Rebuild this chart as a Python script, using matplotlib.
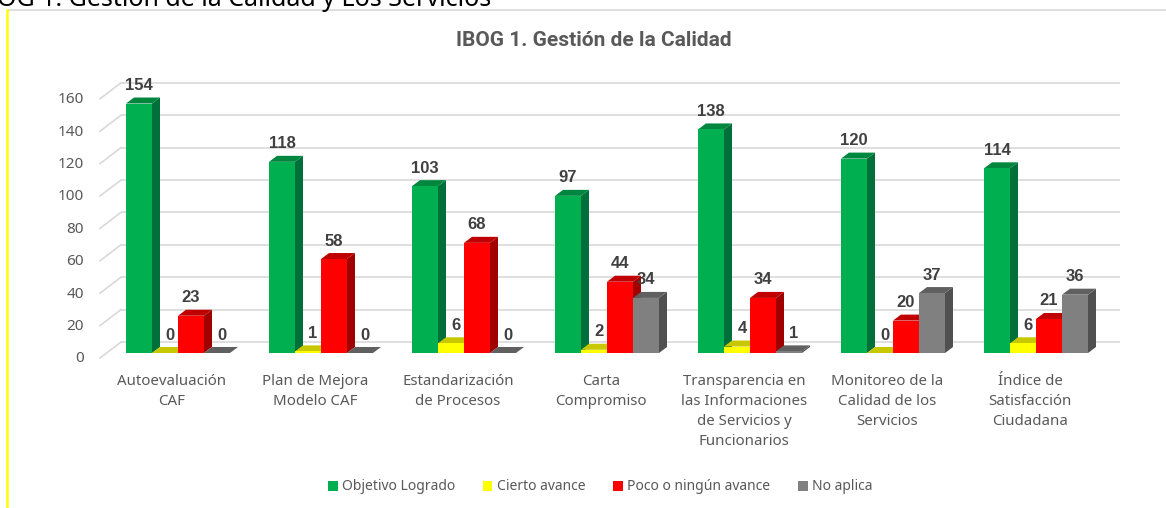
import matplotlib
matplotlib.use("Agg")
import matplotlib.pyplot as plt
from matplotlib.patches import Polygon, Patch
from matplotlib.lines import Line2D

plt.rcParams['font.family'] = ['Noto Sans', 'DejaVu Sans']

# ---------------- data ----------------
categories = [
    "Autoevaluación\nCAF",
    "Plan de Mejora\nModelo CAF",
    "Estandarización\nde Procesos",
    "Carta\nCompromiso",
    "Transparencia en\nlas Informaciones\nde Servicios y\nFuncionarios",
    "Monitoreo de la\nCalidad de los\nServicios",
    "Índice de\nSatisfacción\nCiudadana",
]
series_names = ["Objetivo Logrado", "Cierto avance", "Poco o ningún avance", "No aplica"]
objetivo_logrado = [154, 118, 103, 97, 138, 120, 114]
cierto_avance = [0, 1, 6, 2, 4, 0, 6]
poco_avance = [23, 58, 68, 44, 34, 20, 21]
no_aplica = [0, 0, 0, 34, 1, 37, 36]
y_ticks = [0, 20, 40, 60, 80, 100, 120, 140, 160]
chart_title = "IBOG 1. Gestión de la Calidad"
header_text = "OG 1. Gestión de la Calidad y Los Servicios"

series_values = [objetivo_logrado, cierto_avance, poco_avance, no_aplica]
# (front, side, top)
series_colors = [
    ("#00B050", "#00703A", "#00873F"),
    ("#FFFF00", "#B5B500", "#C8C800"),
    ("#FF0000", "#A00000", "#C00000"),
    ("#808080", "#505050", "#606060"),
]

# ---------------- geometry (pixels) ----------------
W, H = 1166, 508
X0 = 100.5      # left of category slots
SLOT = 143.0    # px per category
FLOOR = 353.0   # bar floor pixel row
PXU = 1.62      # px per value unit
TOP = 60.0

fig = plt.figure(figsize=(W / 100, H / 100), dpi=100)
ax = fig.add_axes([X0 / W, (H - FLOOR) / H, 7 * SLOT / W, (FLOOR - TOP) / H])
ax.set_xlim(-0.5, 6.5)
ax.set_ylim(0, (FLOOR - TOP) / PXU)
ax.axis('off')


def xd(px):
    return -0.5 + (px - X0) / SLOT


def dpx_x(px):
    return px / SLOT


def dpx_y(px):
    return px / PXU


GRID = "#D9D9D9"
# back wall gridlines + left wall diagonals + y tick labels
for v in y_ticks:
    yb = v + dpx_y(11)
    ax.plot([xd(121), xd(1120)], [yb, yb], color=GRID, lw=1.2, zorder=0, clip_on=False,
            solid_capstyle='butt')
    yf = v - dpx_y(5)
    ax.plot([xd(100), xd(121)], [yf, yb], color=GRID, lw=1.2, zorder=0, clip_on=False)
    ax.text(xd(84), v - dpx_y(6), str(v), ha='right', va='center', fontsize=11,
            color='#595959', clip_on=False)

# bars
BW = 26 / SLOT
OFF0 = (126 - 172) / SLOT
DX = dpx_x(8)
DY = dpx_y(6)
for k, (vals, (cf, cs, ct)) in enumerate(zip(series_values, series_colors)):
    xs = [i + OFF0 + k * BW for i in range(len(categories))]
    ax.bar(xs, vals, width=BW, align='edge', color=cf, linewidth=0, zorder=3 * k + 4)
    for x0, v in zip(xs, vals):
        x1 = x0 + BW
        side = Polygon([(x1, 0), (x1, v), (x1 + DX, v + DY), (x1 + DX, DY)],
                       closed=True, facecolor=cs, edgecolor='none', zorder=3 * k + 2)
        top = Polygon([(x0, v), (x1, v), (x1 + DX, v + DY), (x0 + DX, v + DY)],
                      closed=True, facecolor=ct, edgecolor='none', zorder=3 * k + 3)
        ax.add_patch(side)
        ax.add_patch(top)
        shift = dpx_x(5) if v < 10 else 0
        ax.text(x0 + BW / 2 + shift, v + dpx_y(18), str(v), ha='center', va='center',
                fontsize=12, fontweight='bold', color='#404040',
                family=['Liberation Sans', 'DejaVu Sans'], zorder=30, clip_on=False)

# category labels
for i, c in enumerate(categories):
    ax.text(i, -dpx_y(21), c, ha='center', va='top', fontsize=10.8, color='#595959',
            linespacing=1.45, clip_on=False)

# title
fig.text(594 / W, 1 - 40 / H, chart_title, ha='center', va='center', fontsize=15,
         fontweight='bold', color='#595959', family=['Roboto', 'DejaVu Sans'])

# header text, cut off at top
fig.text(-3 / W, 1 - 6 / H, header_text, ha='left', va='baseline', fontsize=18,
         color='black')

# chart frame lines
fig.add_artist(Line2D([8 / W, 1.0], [1 - 10 / H, 1 - 10 / H], color='#D9D9D9', lw=1.2,
                      transform=fig.transFigure))
fig.add_artist(Line2D([7 / W, 7 / W], [0, 1 - 10 / H], color='#FFFF00', lw=1.8,
                      transform=fig.transFigure))

# legend
handles = [Patch(facecolor=c[0], edgecolor='none') for c in series_colors]
fig.legend(handles, series_names, loc='center', bbox_to_anchor=(600 / W, 1 - 487 / H),
           ncol=4, frameon=False, fontsize=10, handlelength=0.7, handleheight=0.7,
           handletextpad=0.3, columnspacing=2.0, labelcolor='#595959')

fig.savefig("out.png", dpi=100)
